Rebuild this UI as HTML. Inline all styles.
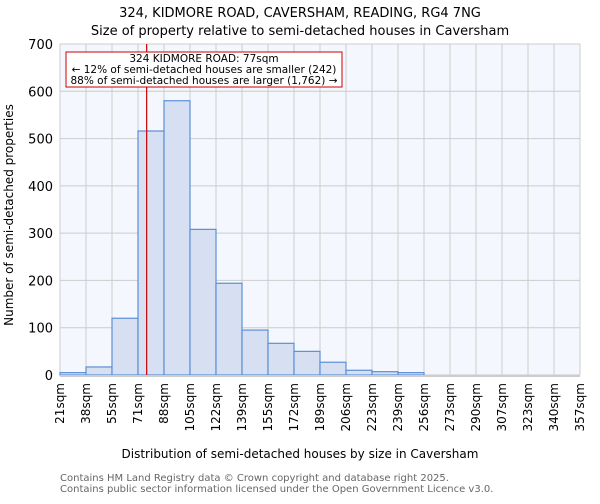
<!DOCTYPE html>
<html><head><meta charset="utf-8"><style>
body{margin:0;background:#fff;font-family:"DejaVu Sans","Liberation Sans",sans-serif;}
svg text{font-family:"DejaVu Sans","Liberation Sans",sans-serif;}
</style></head><body>
<svg id="chart" width="600" height="500" xmlns="http://www.w3.org/2000/svg">
<text x="300" y="17" text-anchor="middle" font-size="13">324, KIDMORE ROAD, CAVERSHAM, READING, RG4 7NG</text>
<text x="300" y="35" text-anchor="middle" font-size="13">Size of property relative to semi-detached houses in Caversham</text>
<rect x="60" y="44" width="520" height="331" fill="#f0f4fc" opacity="0.7"/>
<g id="grid"></g><g id="bars"></g><g id="axes"></g>
<text x="300" y="458" text-anchor="middle" font-size="12">Distribution of semi-detached houses by size in Caversham</text>
<text transform="translate(13,215) rotate(-90)" text-anchor="middle" font-size="12">Number of semi-detached properties</text>
<text x="60" y="481" font-size="10" fill="#666">Contains HM Land Registry data © Crown copyright and database right 2025.</text>
<text x="60" y="492" font-size="10" fill="#666">Contains public sector information licensed under the Open Government Licence v3.0.</text>
</svg>
<script>
const binLabels=["21sqm","38sqm","55sqm","71sqm","88sqm","105sqm","122sqm","139sqm","155sqm","172sqm","189sqm","206sqm","223sqm","239sqm","256sqm","273sqm","290sqm","307sqm","323sqm","340sqm","357sqm"];
const counts=[5,17,120,516,580,308,194,95,67,50,27,10,7,5,0,0,0,0,0,0];
const yTicks=[0,100,200,300,400,500,600,700];
const markerValue=77;
const binStart=21, binWidth=16.8;
const NS="http://www.w3.org/2000/svg";
const L=60,R=580,T=44,B=375,ymax=700;
const n=counts.length;
const x=i=>L+(R-L)*i/n;
const xv=v=>L+(R-L)*(v-binStart)/(binWidth*n);
const y=v=>B-(B-T)*v/ymax;
function mk(tag,attrs,parent){const e=document.createElementNS(NS,tag);for(const k in attrs)e.setAttribute(k,attrs[k]);parent.appendChild(e);return e;}
const grid=document.getElementById('grid'),bars=document.getElementById('bars'),axes=document.getElementById('axes');
yTicks.forEach(t=>{
 const g=mk('line',{x1:L,x2:R,y1:y(t),y2:y(t),stroke:'#ccc','stroke-width':1},grid);
 
 
 const tx=mk('text',{x:L-7,y:y(t)+5,'text-anchor':'end','font-size':13},axes);
 tx.textContent=t;
 
 
});
binLabels.forEach((lab,i)=>{
 const g=mk('line',{x1:x(i),x2:x(i),y1:T,y2:B,stroke:'#ccc','stroke-width':1},grid);
 
 
 const tx=mk('text',{transform:`translate(${x(i)+4},${B+8}) rotate(-90)`,'text-anchor':'end','font-size':12},axes);
 tx.textContent=lab;
 
 
});
counts.forEach((c,i)=>{
 if(c<=0)return;
 const r=mk('rect',{x:x(i),y:y(c),width:x(i+1)-x(i),height:B-y(c),fill:'#d6e0f2',stroke:'#5b8fd6','stroke-width':1.2},bars);
 
 
});
const base=mk('line',{x1:L,x2:R,y1:B+1,y2:B+1,stroke:'#ccc','stroke-width':2},axes);


const mx=xv(markerValue);
const ml=mk('line',{x1:mx,x2:mx,y1:T,y2:B,stroke:'#c00','stroke-width':1.2},axes);


const box=mk('rect',{x:66,y:52,width:276,height:35,fill:'#fff',stroke:'#c00','stroke-width':1},axes);


["324 KIDMORE ROAD: 77sqm","← 12% of semi-detached houses are smaller (242)","88% of semi-detached houses are larger (1,762) →"].forEach((s,i)=>{
 const t=mk('text',{x:204,y:62+i*11,'text-anchor':'middle','font-size':10.5},axes);
 t.textContent=s;
 
 
});
</script>
</body></html>
